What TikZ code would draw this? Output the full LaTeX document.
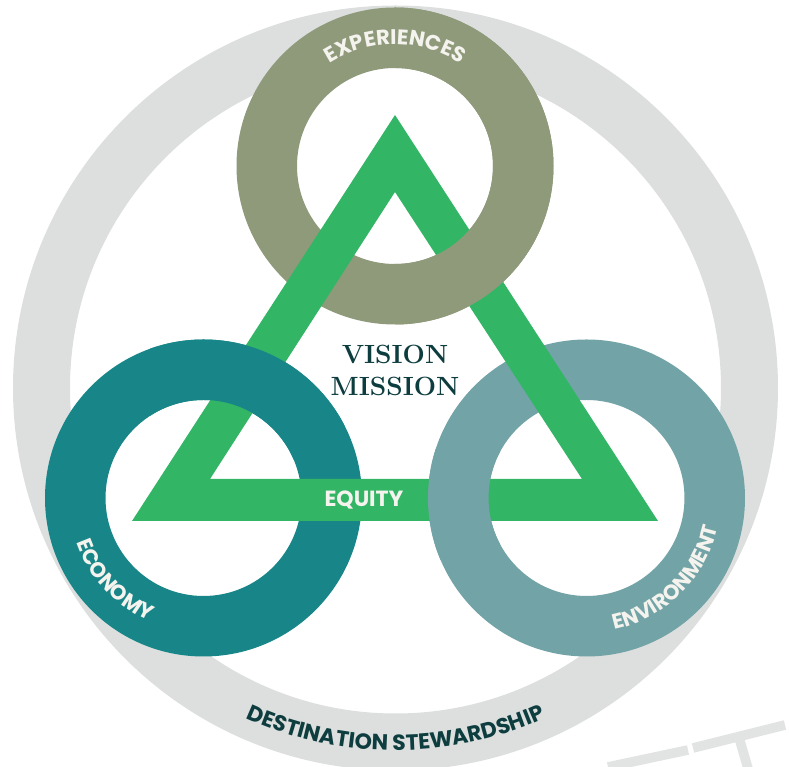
\documentclass[tikz,border=0pt]{standalone}
\usepackage{fontspec}
\usepackage{xcolor}
\usepackage{tikz}
\usetikzlibrary{calc, positioning, decorations.text}
\newfontfamily\ringfont{Poppins}
\definecolor{ringgray}{HTML}{DCDFDE}
\definecolor{expolive}{HTML}{8F9A7B}
\definecolor{ecoteal}{HTML}{188688}
\definecolor{envteal}{HTML}{72A3A6}
\definecolor{triagreen}{HTML}{33B566}
\definecolor{inkteal}{HTML}{0E3D3F}
\definecolor{labelwhite}{HTML}{F4F3EE}
\definecolor{markgray}{HTML}{E2E4E3}
\tikzset{
    ring/.style={fill=#1, even odd rule},
    band/.style={fill=triagreen, even odd rule},
    ringlabel/.style={decorate, decoration={text along path, text align=center, text={#1}}},
    core/.style={font=\fontsize{15}{18}\selectfont\bfseries, text=inkteal, align=center, inner sep=0pt},
    equity/.style={font=\ringfont\fontsize{12.5}{14}\selectfont\bfseries, text=labelwhite, inner sep=0pt},
    wmark/.style={draw=markgray, line width=5.5pt}
}

\begin{document}
\begin{tikzpicture}[x=0.02cm, y=0.02cm]
    \clip (0,0) rectangle (789,767);
    % Centres of the rings
    \coordinate (G) at (395.5,379);
    \coordinate (X) at (395,601);
    \coordinate (C) at (203.5,269);
    \coordinate (V) at (586.5,269);

    % Faint watermark strokes
    \draw[wmark] (608,0) -- (688,17);
    \draw[wmark] (693,19) -- (785,42);
    \draw[wmark] (740,26) -- (749,-5);

    % Stewardship ring
    \path[ring=ringgray] (G) circle (382.5) circle (325.5);

    % Three rings
    \path[ring=expolive] (X) circle (158.5) circle (98);
    \path[ring=ecoteal] (C) circle (158.5) circle (98);
    \path[ring=envteal] (V) circle (158.5) circle (98);

    % Triangle
    \path[band] (395,652) -- (132,246) -- (658,246) -- cycle
                (395,575) -- (210,288) -- (582,288) -- cycle;

    % Rings passing over the triangle
    \begin{scope}
        \clip (395,400) rectangle (560,780);
        \path[ring=expolive] (X) circle (158.5) circle (98);
    \end{scope}
    \begin{scope}
        \clip (150,307) rectangle (345,437);
        \path[ring=ecoteal] (C) circle (158.5) circle (98);
    \end{scope}
    \begin{scope}
        \clip (420,207) rectangle (500,317);
        \path[ring=envteal] (V) circle (158.5) circle (98);
    \end{scope}

    % Ring labels
    \path[ringlabel={|\ringfont\fontsize{12}{14}\selectfont\bfseries\color{labelwhite}|EXPERIENCES}]
        ($(X)+(180:121.5)$) arc[start angle=180, end angle=0, radius=121.5];
    \path[ringlabel={|\ringfont\fontsize{12}{14}\selectfont\bfseries\color{labelwhite}|ECONOMY}]
        ($(C)+(162.7:134.5)$) arc[start angle=162.7, end angle=282.7, radius=134.5];
    \path[ringlabel={|\ringfont\fontsize{12}{14}\selectfont\bfseries\color{labelwhite}|ENVIRONMENT}]
        ($(V)+(254.7:134.5)$) arc[start angle=254.7, end angle=374.7, radius=134.5];
    \path[ringlabel={|\ringfont\fontsize{12.5}{14}\selectfont\bfseries\color{inkteal}|DESTINATION STEWARDSHIP}]
        ($(G)+(225:362.5)$) arc[start angle=225, end angle=315, radius=362.5];

    % Centre texts
    \node[core] (vision) at (395,413) {VISION};
    \node[core] (mission) at (395,381) {MISSION};
    \node[equity] (equity) at (364,266.5) {EQUITY};
\end{tikzpicture}
\end{document}
